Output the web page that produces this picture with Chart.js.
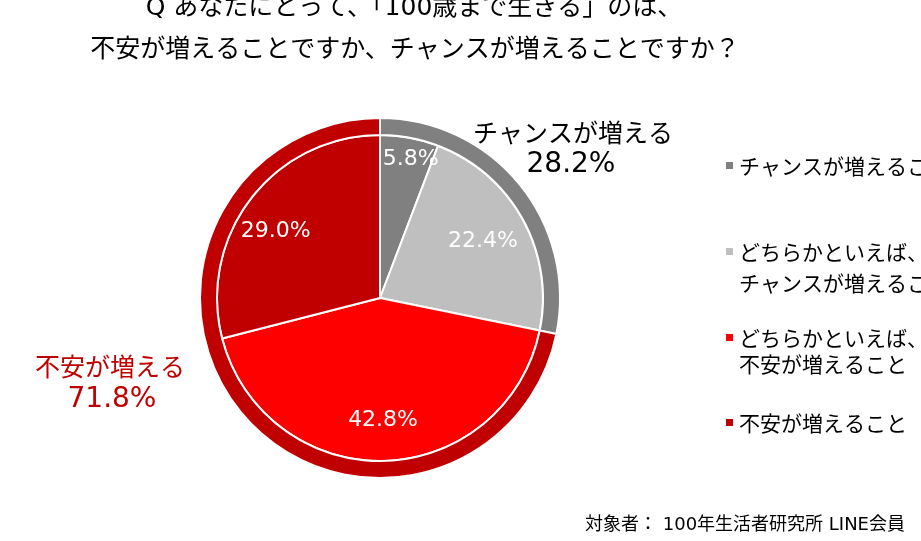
<!DOCTYPE html>
<html>
<head>
<meta charset="utf-8">
<script src="https://cdn.jsdelivr.net/npm/chart.js@4/dist/chart.umd.min.js"></script>
<style>
  html, body { margin: 0; padding: 0; background: #ffffff; }
  #wrap { width: 921px; height: 541px; position: relative; }
</style>
</head>
<body>
<div id="wrap"><canvas id="c" width="921" height="541"></canvas></div>
<script>
// ---- data ----
const categories = ['チャンスが増えること', 'どちらかといえば、チャンスが増えること', 'どちらかといえば、不安が増えること', '不安が増えること'];
const innerValues = [5.8, 22.4, 42.8, 29.0];
const innerColors = ['#808080', '#BFBFBF', '#FF0000', '#C00000'];
const groupLabels = ['チャンスが増える', '不安が増える'];
const groupValues = [28.2, 71.8];
const groupColors = ['#808080', '#C00000'];
const legendLines = [['チャンスが増えること'], ['どちらかといえば、', 'チャンスが増えること'], ['どちらかといえば、', '不安が増えること'], ['不安が増えること']];
const titleLines = ['Q あなたにとって、「100歳まで生きる」のは、', '不安が増えることですか、チャンスが増えることですか？'];
const footnote = '対象者： 100年生活者研究所 LINE会員';

const FONT = '"Noto Sans CJK JP", "Noto Sans", sans-serif';
const NUMFONT = '"DejaVu Sans", "Noto Sans CJK JP", sans-serif';

const textPlugin = {
  id: 'textPlugin',
  afterDraw(chart) {
    const ctx = chart.ctx;
    ctx.save();
    ctx.textBaseline = 'middle';
    // title
    ctx.fillStyle = '#000000';
    ctx.textAlign = 'center';
    ctx.font = '25px ' + NUMFONT;
    ctx.fillText(titleLines[0], 414, 8);
    ctx.fillText(titleLines[1], 415, 50);

    // inner slice labels
    const meta = chart.getDatasetMeta(1);
    const rFactor = [0.87, 0.72, 0.75, 0.76];
    const aFrac = [0.6, 0.5, 0.5, 0.45];
    ctx.font = '22px ' + NUMFONT;
    ctx.fillStyle = '#ffffff';
    meta.data.forEach((arc, i) => {
      const p = arc.getProps(['x', 'y', 'startAngle', 'endAngle', 'outerRadius'], true);
      const ang = p.startAngle + (p.endAngle - p.startAngle) * aFrac[i];
      const r = p.outerRadius * rFactor[i];
      ctx.fillText(innerValues[i].toFixed(1) + '%', p.x + Math.cos(ang) * r, p.y + Math.sin(ang) * r);
    });

    // group annotations
    ctx.font = '25px ' + FONT;
    ctx.fillStyle = '#000000';
    ctx.fillText(groupLabels[0], 573, 132);
    ctx.font = '28px ' + NUMFONT;
    ctx.fillText(groupValues[0].toFixed(1) + '%', 571, 165);
    ctx.fillStyle = '#C00000';
    ctx.font = '25px ' + FONT;
    ctx.fillText(groupLabels[1], 110, 366);
    ctx.font = '28px ' + NUMFONT;
    ctx.fillText(groupValues[1].toFixed(1) + '%', 112, 400);

    // legend
    const rowY = [[166], [252, 283], [338, 364], [423]];
    ctx.textAlign = 'left';
    ctx.font = '21px ' + FONT;
    legendLines.forEach((lines, i) => {
      ctx.fillStyle = innerColors[i];
      ctx.fillRect(726, rowY[i][0] - 4, 7, 7);
      ctx.fillStyle = '#000000';
      lines.forEach((t, j) => ctx.fillText(t, 739, rowY[i][j]));
    });

    // footnote
    ctx.font = '18px ' + NUMFONT;
    ctx.fillText(footnote, 585, 525);
    ctx.restore();
  }
};

new Chart(document.getElementById('c'), {
  type: 'pie',
  data: {
    labels: categories,
    datasets: [
      { label: 'group', data: groupValues, backgroundColor: groupColors, borderColor: '#ffffff', borderWidth: 2, weight: 17 },
      { label: 'detail', data: innerValues, backgroundColor: innerColors, borderColor: '#ffffff', borderWidth: 2, weight: 163 }
    ]
  },
  options: {
    responsive: false,
    animation: false,
    radius: 180,
    layout: { padding: { left: 190, right: 351, top: 108, bottom: 53 } },
    plugins: { legend: { display: false }, tooltip: { enabled: false }, title: { display: false } }
  },
  plugins: [textPlugin]
});
</script>
</body>
</html>
